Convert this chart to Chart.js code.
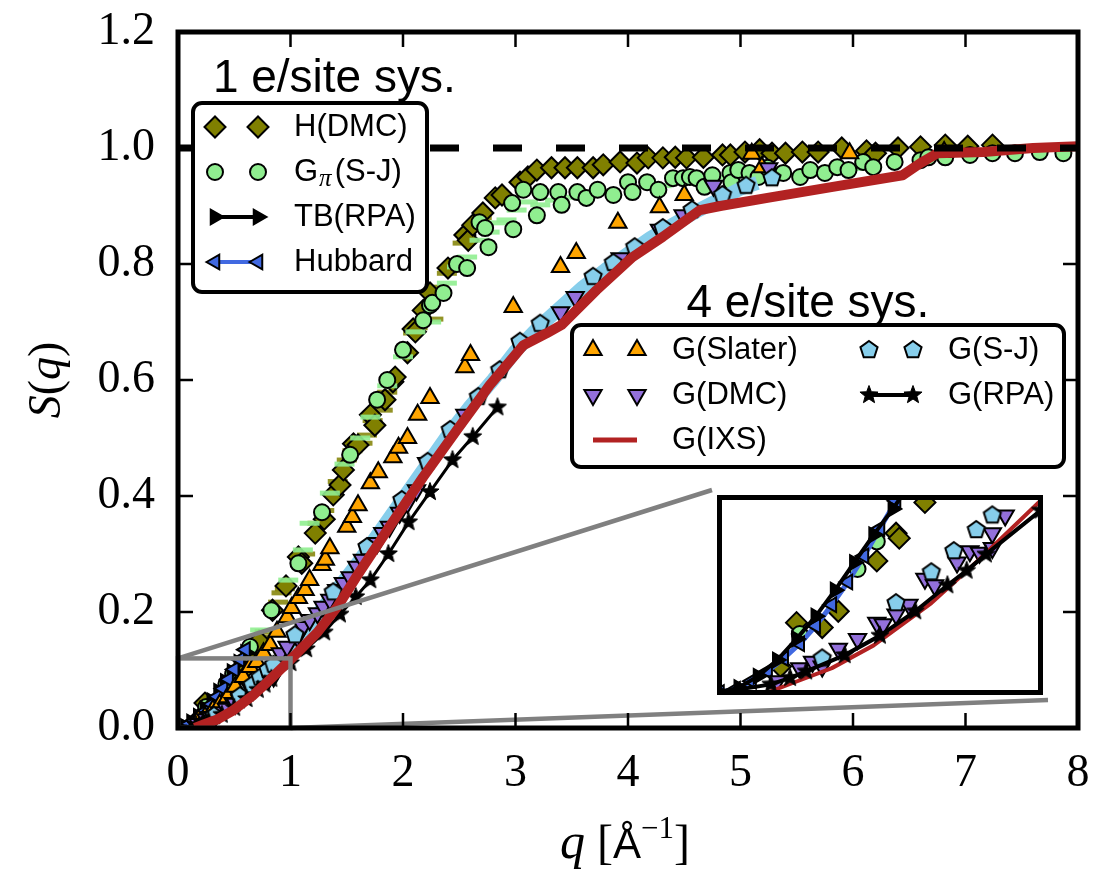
<!DOCTYPE html>
<html>
<head>
<meta charset="utf-8">
<script src="https://cdn.jsdelivr.net/npm/chart.js@4.4.1/dist/chart.umd.min.js"></script>
<style>
  html, body { margin: 0; padding: 0; background: #fff; }
  #wrap { position: relative; width: 1118px; height: 870px; }
  #main { position: absolute; left: 0; top: 0; width: 1118px; height: 870px; }
  #inset { position: absolute; left: 707px; top: 485px; width: 346px; height: 220px; }
</style>
</head>
<body>
<div id="wrap">
  <canvas id="main" width="1118" height="870"></canvas>
  <canvas id="inset" width="346" height="220"></canvas>
</div>
<script>
// axis ticks
const xTicks = [0, 1, 2, 3, 4, 5, 6, 7, 8];
const yTicks = [0, 0.2, 0.4, 0.6, 0.8, 1.0, 1.2];
// region magnified in the inset
const insetQ = [0, 1];
const insetS = [0, 0.12];

// 1 e/site systems  ([q, S(q)])
const hDmc = [[0.19,0.016],[0.24,0.043],[0.32,0.040],[0.37,0.050],[0.49,0.081],[0.55,0.098],[0.56,0.095],[0.64,0.117],
  [0.72,0.150],[0.84,0.203],[0.96,0.245],[1.07,0.295],[1.10,0.284],[1.22,0.336],[1.30,0.360],[1.38,0.402],[1.44,0.419],
  [1.47,0.445],[1.56,0.490],[1.60,0.488],[1.71,0.540],[1.75,0.522],[1.84,0.566],[1.91,0.597],[1.93,0.605],[2.04,0.647],
  [2.09,0.688],[2.11,0.683],[2.18,0.720],[2.24,0.750],[2.40,0.793],[2.55,0.850],[2.58,0.841],[2.62,0.867],[2.71,0.888],
  [2.82,0.914],[2.88,0.919],[3.04,0.941],[3.11,0.950],[3.19,0.962],[3.32,0.966],[3.44,0.966],[3.55,0.966],[3.69,0.966],
  [3.78,0.971],[3.93,0.976],[4.08,0.974],[4.18,0.983],[4.31,0.983],[4.42,0.984],[4.52,0.983],[4.67,0.984],[4.84,0.988],
  [4.91,0.988],[5.04,0.993],[5.17,0.997],[5.28,0.991],[5.40,0.991],[5.55,0.993],[5.69,0.993],[5.90,1.000],[6.12,0.995],
  [6.20,0.991],[6.40,1.000],[6.60,1.002],[6.82,1.005],[7.02,1.003],[7.24,1.005]];
const hDmcErr = [[0.70,0.150],[0.74,0.157],[0.77,0.166],[0.89,0.217],[0.92,0.233],[0.95,0.240],[1.13,0.300],[1.24,0.353],
  [1.30,0.375],[1.42,0.425],[1.50,0.462],[1.55,0.478],[1.64,0.491],[1.68,0.505],[1.73,0.530],[1.82,0.548],[1.86,0.579],
  [1.90,0.600],[2.02,0.650],[2.09,0.681],[2.13,0.690],[2.27,0.705],[2.32,0.760],[2.39,0.784],[2.45,0.800],[2.53,0.836],
  [2.62,0.862],[2.70,0.880]];
const gPi = [[0.25,0.036],[0.43,0.076],[0.49,0.093],[0.64,0.140],[0.83,0.203],[1.07,0.284],[1.28,0.372],[1.53,0.471],
  [1.77,0.566],[1.86,0.600],[2.00,0.652],[2.18,0.703],[2.24,0.729],[2.26,0.733],[2.36,0.750],[2.48,0.800],[2.57,0.793],
  [2.68,0.872],[2.73,0.862],[2.76,0.829],[2.97,0.905],[2.98,0.860],[3.07,0.928],[3.19,0.884],[3.22,0.924],[3.38,0.924],
  [3.41,0.902],[3.55,0.924],[3.63,0.914],[3.73,0.928],[3.87,0.919],[4.00,0.941],[4.04,0.924],[4.17,0.941],[4.27,0.928],
  [4.40,0.948],[4.49,0.948],[4.55,0.950],[4.61,0.948],[4.68,0.933],[4.75,0.953],[4.91,0.957],[4.92,0.941],[4.98,0.962],
  [5.08,0.957],[5.16,0.950],[5.24,0.966],[5.38,0.957],[5.53,0.950],[5.62,0.962],[5.75,0.957],[5.86,0.967],[5.96,0.962],
  [6.09,0.976],[6.18,0.967],[6.37,0.976],[6.60,0.979],[6.67,0.984],[6.82,0.984],[7.04,0.988],[7.24,0.991],[7.44,0.991],
  [7.66,0.993],[7.87,0.991]];
const gPiErr = [[0.73,0.169],[0.98,0.255],[1.11,0.307],[1.17,0.353],[1.35,0.405],[1.48,0.455],[1.62,0.500],[1.71,0.536],
  [1.86,0.590],[2.00,0.640],[2.11,0.683],[2.25,0.700],[2.39,0.767],[2.48,0.795],[2.57,0.812],[2.68,0.841],[2.77,0.855],
  [2.84,0.871],[2.92,0.876],[3.01,0.893],[3.11,0.907],[3.22,0.902],[3.35,0.910],[3.50,0.915],[4.30,0.935],[4.60,0.940],
  [4.90,0.950],[5.30,0.955],[5.70,0.960],[6.10,0.965]];
const tbRpa = [[0.00,0.000],[0.06,0.003],[0.12,0.010],[0.18,0.020],[0.24,0.033],[0.30,0.047],[0.36,0.063],[0.42,0.080],
  [0.48,0.097],[0.54,0.113],[0.60,0.130]];
const hubbard = [[0.00,0.000],[0.05,0.002],[0.10,0.007],[0.15,0.013],[0.20,0.021],[0.25,0.030],[0.30,0.041],[0.35,0.054],
  [0.40,0.068],[0.45,0.084],[0.50,0.101],[0.55,0.118],[0.60,0.135]];

// 4 e/site systems
const gSlater = [[0.18,0.014],[0.24,0.019],[0.31,0.031],[0.37,0.040],[0.44,0.053],[0.51,0.071],[0.58,0.088],[0.64,0.105],
  [0.70,0.114],[0.76,0.129],[0.82,0.143],[0.88,0.166],[0.97,0.191],[1.01,0.207],[1.07,0.224],[1.13,0.238],[1.17,0.255],
  [1.28,0.281],[1.31,0.290],[1.35,0.310],[1.50,0.347],[1.55,0.364],[1.60,0.384],[1.71,0.422],[1.78,0.441],[1.91,0.467],
  [1.96,0.483],[2.04,0.500],[2.13,0.540],[2.24,0.569],[2.55,0.622],[2.60,0.643],[2.98,0.726],[3.40,0.795],[3.54,0.819],
  [3.91,0.871],[4.28,0.898],[4.50,0.919],[5.10,0.990],[5.19,0.967],[5.97,0.991],[6.81,0.993]];
const gDmc = [[0.18,0.007],[0.25,0.015],[0.29,0.019],[0.32,0.016],[0.37,0.027],[0.43,0.033],[0.49,0.043],[0.51,0.042],
  [0.55,0.048],[0.59,0.054],[0.64,0.070],[0.67,0.066],[0.74,0.080],[0.78,0.087],[0.81,0.086],[0.85,0.089],[0.85,0.098],
  [0.89,0.109],[0.91,0.129],[0.97,0.140],[1.06,0.157],[1.11,0.174],[1.17,0.186],[1.24,0.198],[1.29,0.209],[1.35,0.221],
  [1.41,0.238],[1.47,0.250],[1.53,0.260],[1.59,0.278],[1.64,0.290],[1.71,0.307],[1.77,0.319],[1.82,0.336],[1.88,0.347],
  [1.97,0.371],[2.04,0.388],[2.12,0.410],[2.21,0.457],[2.55,0.540],[3.40,0.717],[3.53,0.743],[3.93,0.810],[4.28,0.859],
  [4.49,0.884],[4.76,0.935],[5.25,0.965]];
const gSJ = [[0.32,0.021],[0.55,0.055],[0.66,0.074],[0.73,0.087],[0.80,0.100],[0.85,0.109],[1.04,0.160],[1.38,0.234],
  [1.68,0.312],[1.99,0.393],[2.22,0.459],[2.42,0.514],[2.67,0.571],[2.86,0.617],[3.04,0.666],[3.22,0.697],[3.69,0.778],
  [3.87,0.802],[4.06,0.829],[4.31,0.862],[4.57,0.893],[4.84,0.919],[5.05,0.935],[5.28,0.948]];
const gSJBand = [[0.60,0.060],[0.80,0.095],[1.00,0.135],[1.20,0.185],[1.40,0.235],[1.60,0.285],[1.80,0.340],[2.00,0.395],
  [2.20,0.450],[2.40,0.505],[2.60,0.555],[2.80,0.600],[3.00,0.650],[3.20,0.690],[3.40,0.725],[3.60,0.760],[3.80,0.790],
  [4.00,0.818],[4.20,0.845],[4.40,0.868],[4.60,0.890],[4.80,0.910],[5.00,0.930],[5.15,0.940]];
const gIxs = [[0.15,0.000],[0.23,0.006],[0.35,0.015],[0.48,0.029],[0.66,0.055],[0.81,0.082],[1.00,0.118],[1.24,0.165],
  [1.42,0.210],[1.59,0.262],[1.88,0.347],[2.18,0.433],[2.48,0.514],[2.77,0.591],[3.07,0.660],[3.28,0.681],[3.41,0.695],
  [3.72,0.755],[4.04,0.812],[4.31,0.847],[4.64,0.893],[4.82,0.900],[5.24,0.914],[5.82,0.933],[6.44,0.953],[6.60,0.974],
  [6.75,0.991],[7.16,0.993],[7.60,1.000],[8.00,1.003]];
const gRpa = [[0.00,0.000],[0.16,0.005],[0.22,0.009],[0.27,0.013],[0.39,0.023],[0.50,0.035],[0.61,0.050],[0.71,0.066],
  [0.77,0.075],[0.83,0.085],[1.00,0.112],[1.14,0.136],[1.30,0.165],[1.44,0.196],[1.58,0.226],[1.71,0.255],[1.87,0.300],
  [2.05,0.355],[2.24,0.407],[2.44,0.462],[2.62,0.502],[2.84,0.553]];
const unity = [[0, 1], [8, 1]];

const OLIVE = '#808000', LGREEN = '#90EE90', ORANGE = '#FFA500', PURPLE = '#9370DB',
      SKY = '#87CEEB', FIRE = '#B22222', ROYAL = '#4169E1';
const SANS = '"Liberation Sans", Arial, sans-serif';
const SERIF = '"Liberation Serif", "Times New Roman", serif';

const xy = a => a.map(p => ({ x: p[0], y: p[1] }));

// pentagon / filled star markers as small canvases
function markerCanvas(size, nPts, rOut, rIn, fill, lw) {
  const c = document.createElement('canvas');
  c.width = size; c.height = size;
  const g = c.getContext('2d');
  g.translate(size / 2, size / 2);
  g.beginPath();
  const n = rIn ? nPts * 2 : nPts;
  for (let i = 0; i < n; i++) {
    const r = rIn && i % 2 ? rIn : rOut;
    const a = -Math.PI / 2 + i * 2 * Math.PI / n;
    i ? g.lineTo(r * Math.cos(a), r * Math.sin(a)) : g.moveTo(r * Math.cos(a), r * Math.sin(a));
  }
  g.closePath();
  g.fillStyle = fill; g.fill();
  g.lineWidth = lw; g.strokeStyle = '#000'; g.lineJoin = 'miter'; g.stroke();
  return c;
}
const pentagon = markerCanvas(24, 5, 9, 0, SKY, 2);
const star = markerCanvas(24, 5, 9.5, 4, '#000', 1);

const MK = {
  diamond: { shape: 'rectRot', r: 10.5, fill: OLIVE },
  circle:  { shape: 'circle', r: 8, fill: LGREEN },
  up:      { shape: 'triangle', r: 10, fill: ORANGE },
  down:    { shape: 'triangle', r: 10, rot: 180, fill: PURPLE },
  right:   { shape: 'triangle', r: 8.5, rot: 90, fill: '#000' },
  left:    { shape: 'triangle', r: 8.5, rot: -90, fill: ROYAL },
  pent:    { shape: pentagon, r: 9 },
  star:    { shape: star, r: 9 }
};

function marks(data, mk, order, extra) {
  return Object.assign({
    data: xy(data), showLine: false, clip: 0, order,
    pointStyle: mk.shape, pointRadius: mk.r, pointHoverRadius: mk.r, pointHitRadius: 0,
    pointRotation: mk.rot || 0,
    pointBackgroundColor: mk.fill || '#000', pointBorderColor: '#000',
    pointBorderWidth: mk.lw === undefined ? 2 : mk.lw
  }, extra || {});
}
function line(data, color, width, order, mk, extra) {
  const ds = mk ? marks(data, mk, order) : { data: xy(data), clip: 0, order, pointRadius: 0, pointHoverRadius: 0, pointHitRadius: 0 };
  return Object.assign(ds, { showLine: true, borderColor: color, borderWidth: width, tension: 0, fill: false,
    borderCapStyle: 'butt', borderJoinStyle: 'round' }, extra || {});
}
function dashes(data, color, order) {
  return marks(data, { shape: 'line', r: 10, fill: color, lw: 5 }, order, { pointBorderColor: color });
}

// main panel: smaller order is drawn on top
const mainSets = [
  dashes(hDmcErr, 'rgba(128,128,0,0.85)', 40),
  marks(hDmc, MK.diamond, 39),
  dashes(gPiErr, 'rgba(144,238,144,0.9)', 38),
  marks(gPi, MK.circle, 37),
  line(tbRpa, '#000', 3.5, 36, MK.right),
  line(hubbard, ROYAL, 3.5, 35, MK.left),
  line(gSJBand, SKY, 14, 34),
  marks(gSlater, MK.up, 33),
  marks(gDmc, MK.down, 32),
  marks(gSJ, MK.pent, 31),
  line(gRpa, '#000', 3, 30, MK.star),
  line(gIxs, FIRE, 10, 29),
  line(unity, '#000', 7, 10, null, { borderDash: [29, 34] })
];

// inset: low-q part of the same curves
const insetSets = [
  marks(hDmc, MK.diamond, 39),
  marks(gPi, MK.circle, 37),
  line(hubbard, ROYAL, 5, 36, MK.left),
  line(tbRpa, '#000', 4, 35, MK.right),
  marks(gDmc, MK.down, 32),
  marks(gSJ, MK.pent, 31),
  line(gIxs, FIRE, 4, 30),
  line(gRpa, '#000', 4, 29, MK.star)
];

const INSET_BOX = { left: 712, top: 490, right: 1048, bottom: 700 };

function drawMarker(ctx, mk, x, y) {
  const lw = mk.lw === undefined ? 2 : mk.lw;
  ctx.save();
  ctx.fillStyle = mk.fill || '#000';
  ctx.strokeStyle = '#000';
  ctx.lineWidth = lw;
  Chart.helpers.drawPoint(ctx, { pointStyle: mk.shape, rotation: mk.rot || 0, radius: mk.r, borderWidth: lw }, x, y);
  ctx.restore();
}

function roundBox(ctx, x, y, w, h, r) {
  ctx.beginPath();
  ctx.moveTo(x + r, y);
  ctx.arcTo(x + w, y, x + w, y + h, r);
  ctx.arcTo(x + w, y + h, x, y + h, r);
  ctx.arcTo(x, y + h, x, y, r);
  ctx.arcTo(x, y, x + w, y, r);
  ctx.closePath();
}

function legendEntry(ctx, e, mx1, mx2, tx, y) {
  if (e.line) {
    ctx.save();
    ctx.strokeStyle = e.line[0]; ctx.lineWidth = e.line[1];
    ctx.beginPath(); ctx.moveTo(mx1, y); ctx.lineTo(mx2, y); ctx.stroke();
    ctx.restore();
  }
  if (e.mk) { drawMarker(ctx, e.mk, mx1, y); drawMarker(ctx, e.mk, mx2, y); }
  ctx.fillStyle = '#000';
  ctx.textAlign = 'left';
  ctx.textBaseline = 'middle';
  ctx.font = '31px ' + SANS;
  if (e.sub) {
    ctx.fillText(e.label[0], tx, y);
    let w = ctx.measureText(e.label[0]).width + 1;
    ctx.font = 'italic 25px ' + SERIF;
    ctx.fillText(e.label[1], tx + w, y + 7);
    w += ctx.measureText(e.label[1]).width + 3;
    ctx.font = '31px ' + SANS;
    ctx.fillText(e.label[2], tx + w, y);
  } else {
    ctx.fillText(e.label, tx, y);
  }
}

const legendOne = [
  { label: 'H(DMC)', mk: MK.diamond },
  { label: ['G', 'π', '(S-J)'], sub: true, mk: MK.circle },
  { label: 'TB(RPA)', mk: MK.right, line: ['#000', 4] },
  { label: 'Hubbard', mk: MK.left, line: [ROYAL, 4] }
];
const legendFour = [
  { label: 'G(Slater)', mk: MK.up },
  { label: 'G(DMC)', mk: MK.down },
  { label: 'G(IXS)', line: [FIRE, 5] },
  { label: 'G(S-J)', mk: MK.pent },
  { label: 'G(RPA)', mk: MK.star, line: ['#000', 4] }
];

const framePlugin = {
  id: 'frame',
  afterDatasetsDraw(chart) {
    const { ctx, chartArea: ca, scales: { x, y } } = chart;
    ctx.save();
    // box around the magnified region and its links to the inset
    const qx0 = x.getPixelForValue(insetQ[0]), qx1 = x.getPixelForValue(insetQ[1]);
    const sy0 = y.getPixelForValue(insetS[0]), sy1 = y.getPixelForValue(insetS[1]);
    ctx.strokeStyle = '#808080';
    ctx.lineWidth = 4.5;
    ctx.strokeRect(qx0, sy1, qx1 - qx0, sy0 - sy1);
    ctx.beginPath();
    ctx.moveTo(qx0, sy1); ctx.lineTo(INSET_BOX.left, INSET_BOX.top);
    ctx.moveTo(qx1, sy0); ctx.lineTo(INSET_BOX.right, INSET_BOX.bottom);
    ctx.stroke();
    // inward ticks on all four sides
    ctx.strokeStyle = '#000';
    ctx.lineWidth = 2.5;
    ctx.beginPath();
    xTicks.forEach(v => {
      const px = x.getPixelForValue(v);
      ctx.moveTo(px, ca.bottom); ctx.lineTo(px, ca.bottom - 15);
      ctx.moveTo(px, ca.top); ctx.lineTo(px, ca.top + 15);
    });
    yTicks.forEach(v => {
      const py = y.getPixelForValue(v);
      ctx.moveTo(ca.left, py); ctx.lineTo(ca.left + 15, py);
      ctx.moveTo(ca.right, py); ctx.lineTo(ca.right - 15, py);
    });
    ctx.stroke();
    ctx.lineWidth = 5;
    ctx.strokeRect(ca.left, ca.top, ca.right - ca.left, ca.bottom - ca.top);
    ctx.restore();
  },
  afterDraw(chart) {
    const { ctx, chartArea: ca, scales: { x, y } } = chart;
    ctx.save();
    // system labels
    ctx.fillStyle = '#000';
    ctx.font = '46px ' + SANS;
    ctx.textAlign = 'left';
    ctx.textBaseline = 'alphabetic';
    ctx.fillText('1 e/site sys.', x.getPixelForValue(0.31), y.getPixelForValue(1.097));
    ctx.fillText('4 e/site sys.', x.getPixelForValue(4.52), y.getPixelForValue(0.709));

    // legend for the 1 e/site curves
    let bx = ca.left + 15, by = ca.top + 71;
    roundBox(ctx, bx, by, 234, 189, 9);
    ctx.fillStyle = '#fff'; ctx.fill();
    ctx.lineWidth = 4; ctx.strokeStyle = '#000'; ctx.stroke();
    legendOne.forEach((e, i) => legendEntry(ctx, e, bx + 22, bx + 65, bx + 101, by + 24 + i * 45));

    // legend for the 4 e/site curves (two columns)
    bx = ca.left + 394; by = ca.top + 293;
    roundBox(ctx, bx, by, 492, 142, 9);
    ctx.fillStyle = '#fff'; ctx.fill();
    ctx.lineWidth = 4; ctx.strokeStyle = '#000'; ctx.stroke();
    legendFour.forEach((e, i) => {
      const col = i < 3 ? 0 : 1, row = i < 3 ? i : i - 3;
      const ox = bx + col * 276;
      legendEntry(ctx, e, ox + 21, ox + 65, ox + 100, by + 25 + row * 45);
    });

    // axis titles
    ctx.textBaseline = 'alphabetic';
    ctx.textAlign = 'left';
    ctx.fillStyle = '#000';
    const parts = [
      { t: 'q', f: 'italic 50px ' + SERIF, dy: 0 },
      { t: ' [', f: '48px ' + SERIF, dy: 0 },
      { t: 'Å', f: '42px ' + SANS, dy: 0 },
      { t: '−1', f: '31px ' + SERIF, dy: -20 },
      { t: ']', f: '48px ' + SERIF, dy: 0 }
    ];
    let total = 0;
    parts.forEach(p => { ctx.font = p.f; p.w = ctx.measureText(p.t).width; total += p.w; });
    let tx = (ca.left + ca.right) / 2 - 3 - total / 2;
    parts.forEach(p => { ctx.font = p.f; ctx.fillText(p.t, tx, 858 + p.dy); tx += p.w; });

    const yparts = [
      { t: 'S', f: 'italic 46px ' + SERIF },
      { t: '(', f: '46px ' + SERIF },
      { t: 'q', f: 'italic 46px ' + SERIF },
      { t: ')', f: '46px ' + SERIF }
    ];
    total = 0;
    yparts.forEach(p => { ctx.font = p.f; p.w = ctx.measureText(p.t).width; total += p.w; });
    ctx.translate(60, (ca.top + ca.bottom) / 2);
    ctx.rotate(-Math.PI / 2);
    tx = -total / 2;
    yparts.forEach(p => { ctx.font = p.f; ctx.fillText(p.t, tx, 0); tx += p.w; });
    ctx.restore();
  }
};

// keep label overflow from shrinking the plotting area
function noPad(s) { s.paddingTop = 0; s.paddingBottom = 0; s.paddingLeft = 0; s.paddingRight = 0; }

new Chart(document.getElementById('main'), {
  type: 'scatter',
  data: { datasets: mainSets },
  options: {
    responsive: false, animation: false, events: [], devicePixelRatio: 1,
    layout: { padding: { top: 32, right: 40, bottom: 0, left: 0 } },
    plugins: { legend: { display: false }, tooltip: { enabled: false } },
    scales: {
      x: {
        type: 'linear', min: 0, max: 8,
        afterBuildTicks: s => { s.ticks = xTicks.map(v => ({ value: v })); },
        afterFit: s => { s.height = 142; noPad(s); },
        ticks: { color: '#000', font: { family: '"Liberation Serif"', size: 46 }, padding: 18,
                 maxRotation: 0, autoSkip: false, callback: v => String(v) },
        grid: { display: false, drawTicks: false },
        border: { display: false }
      },
      y: {
        type: 'linear', min: 0, max: 1.2,
        afterBuildTicks: s => { s.ticks = yTicks.map(v => ({ value: v })); },
        afterFit: s => { s.width = 178; noPad(s); },
        ticks: { color: '#000', font: { family: '"Liberation Serif"', size: 46 }, padding: 23,
                 autoSkip: false, callback: v => Number(v).toFixed(1) },
        grid: { display: false, drawTicks: false },
        border: { display: false }
      }
    }
  },
  plugins: [framePlugin]
});

const insetPlugin = {
  id: 'insetFrame',
  beforeDatasetsDraw(chart) {
    const { ctx, chartArea: ca } = chart;
    ctx.save();
    ctx.fillStyle = '#fff';
    ctx.fillRect(ca.left, ca.top, ca.right - ca.left, ca.bottom - ca.top);
    ctx.restore();
  },
  afterDatasetsDraw(chart) {
    const { ctx, chartArea: ca } = chart;
    ctx.save();
    ctx.lineWidth = 5; ctx.strokeStyle = '#000';
    ctx.strokeRect(ca.left, ca.top, ca.right - ca.left, ca.bottom - ca.top);
    ctx.restore();
  }
};

new Chart(document.getElementById('inset'), {
  type: 'scatter',
  data: { datasets: insetSets },
  options: {
    responsive: false, animation: false, events: [], devicePixelRatio: 1,
    layout: { padding: 5 },
    plugins: { legend: { display: false }, tooltip: { enabled: false } },
    scales: {
      x: { type: 'linear', display: false, min: insetQ[0], max: insetQ[1] },
      y: { type: 'linear', display: false, min: insetS[0], max: insetS[1] }
    }
  },
  plugins: [insetPlugin]
});
</script>
</body>
</html>
